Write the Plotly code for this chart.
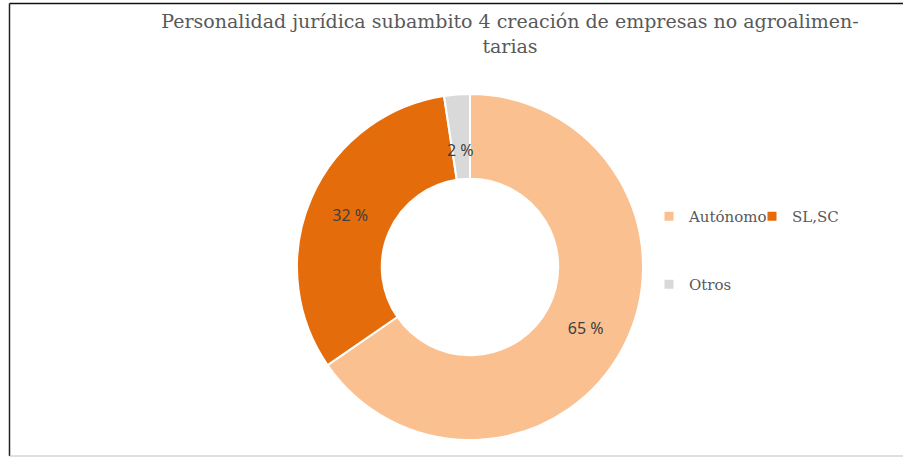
import math
import plotly.graph_objects as go

# ---- data ----
labels = ["Autónomo", "SL,SC", "Otros"]
values = [65.4, 32.2, 2.4]          # % of total
colors = ["#FAC090", "#E46C0A", "#D9D9D9"]
title_text = "Personalidad jurídica subambito 4 creación de empresas no agroalimen-<br>tarias"

# ---- layout constants ----
W, H = 903, 457
CX, CY, R = 470, 267, 173      # pie centre / radius in px
HOLE = 0.51
TEXT_COL = "#595959"
SERIF = "DejaVu Serif"
LBL_FONT = dict(family="Noto Sans", size=16, color="#404040")

dom_x = [(CX - R) / W, (CX + R) / W]
dom_y = [(H - CY - R) / H, (H - CY + R) / H]

fig = go.Figure()

textpos = ["inside" if v >= 5 else "none" for v in values]
fig.add_trace(go.Pie(
    labels=labels, values=values, hole=HOLE, sort=False,
    direction="clockwise", rotation=0,
    marker=dict(colors=colors, line=dict(color="white", width=2)),
    texttemplate="%{value:.0f} %", textposition=textpos,
    insidetextorientation="horizontal",
    textfont=LBL_FONT,
    domain=dict(x=dom_x, y=dom_y), showlegend=False,
))

# label for the small slice, placed from the data (mid angle, mid ring)
total = sum(values)
cum = 0
annotations = []
for lab, v in zip(labels, values):
    if v < 5:
        theta = math.radians(360 * (cum + v / 2) / total)
        rm = R * (1 + HOLE) / 2
        px = CX + rm * math.sin(theta)
        py = CY - rm * math.cos(theta)
        annotations.append(dict(x=px / W, y=(H - py) / H, xref="paper", yref="paper",
                                text=f"{v:.0f} %", showarrow=False, font=LBL_FONT))
    cum += v

# legend entries (two legends to reproduce the reference arrangement)
for i, (lab, col) in enumerate(zip(labels, colors)):
    fig.add_trace(go.Scatter(
        x=[None], y=[None], mode="markers", name=lab,
        marker=dict(symbol="square", size=9, color=col),
        legend="legend" if i < 2 else "legend2", hoverinfo="skip",
    ))

fig.update_layout(
    width=W, height=H, margin=dict(l=0, r=0, t=0, b=0),
    paper_bgcolor="white", plot_bgcolor="white",
    xaxis=dict(visible=False), yaxis=dict(visible=False),
    title=dict(text=title_text, x=510 / W, xanchor="center", y=1 - 28 / H, yanchor="top",
               font=dict(family=SERIF, size=19, color=TEXT_COL)),
    legend=dict(orientation="h", x=649 / W, xanchor="left", y=(H - 200) / H, yanchor="top",
                font=dict(family=SERIF, size=15, color=TEXT_COL), entrywidth=58,
                bgcolor="rgba(0,0,0,0)"),
    legend2=dict(orientation="h", x=649 / W, xanchor="left", y=(H - 268) / H, yanchor="top",
                 font=dict(family=SERIF, size=15, color=TEXT_COL),
                 bgcolor="rgba(0,0,0,0)"),
    annotations=annotations,
    shapes=[
        dict(type="line", xref="paper", yref="paper", x0=9.5 / W, x1=1.01, y0=(H - 3.5) / H, y1=(H - 3.5) / H,
             line=dict(color="#111111", width=1.5)),
        dict(type="line", xref="paper", yref="paper", x0=9.5 / W, x1=9.5 / W, y0=(H - 456) / H, y1=(H - 3.5) / H,
             line=dict(color="#222222", width=1.5)),
        dict(type="line", xref="paper", yref="paper", x0=9.5 / W, x1=1.01, y0=(H - 456) / H, y1=(H - 456) / H,
             line=dict(color="#BFBFBF", width=1)),
    ],
)

fig.write_html("out.html", config={"displayModeBar": False},
               post_script="document.body.style.margin='0';")
